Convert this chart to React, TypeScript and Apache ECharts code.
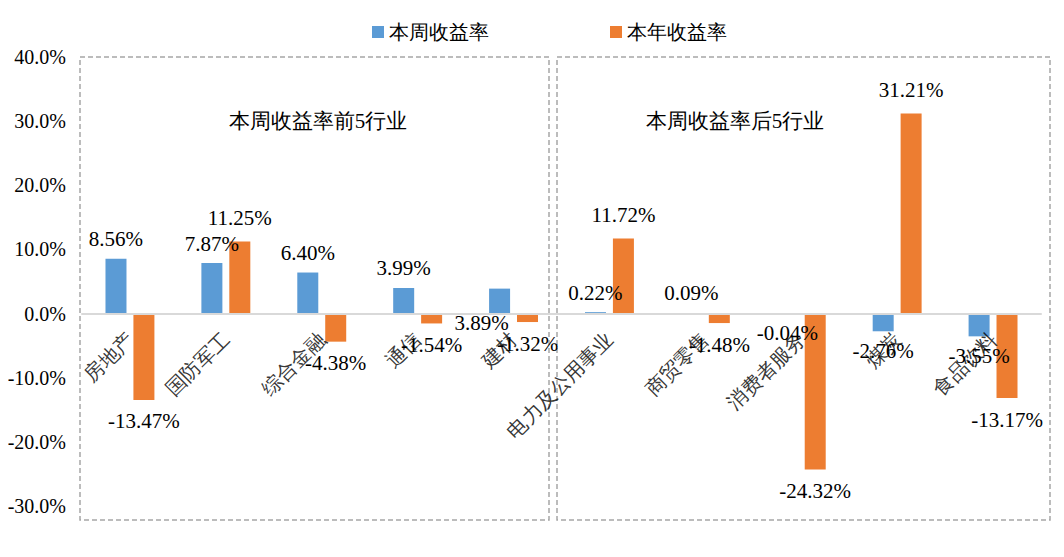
import React, { useEffect, useRef } from "react";
import * as echarts from "echarts";

const categories = ["房地产", "国防军工", "综合金融", "通信", "建材", "电力及公用事业", "商贸零售", "消费者服务", "煤炭", "食品饮料"];
const weekReturn = [8.56, 7.87, 6.40, 3.99, 3.89, 0.22, 0.09, -0.04, -2.76, -3.55];
const yearReturn = [-13.47, 11.25, -4.38, -1.54, -1.32, 11.72, -1.48, -24.32, 31.21, -13.17];
const seriesNames = ["本周收益率", "本年收益率"];
const panelTitles = ["本周收益率前5行业", "本周收益率后5行业"];

const FONT = "Liberation Serif";

function buildData(values: number[], topDist: number, botDist: number) {
  return values.map((v) => {
    const item: any = {
      value: v,
      label: {
        position: v >= 0 ? "top" : "bottom",
        distance: v >= 0 ? topDist : botDist,
      },
    };
    return item;
  });
}

export default function App() {
  const ref = useRef<HTMLDivElement>(null);
  useEffect(() => {
    if (!ref.current) return;
    const chart = echarts.init(ref.current, null, { renderer: "svg" });
    const weekData = buildData(weekReturn, 9, 9);
    // 建材 label sits below the axis in the reference
    weekData[4].label = { position: "bottom", distance: -1, offset: [-18, 0] };
    const yearData = buildData(yearReturn, 13, 11);
    const catLabelData = categories.map((c, i) => [i, 0]);

    chart.setOption({
      animation: false,
      textStyle: { fontFamily: FONT },
      legend: {
        top: 17,
        left: 367,
        itemWidth: 12,
        itemHeight: 12,
        itemGap: 121,
        icon: "rect",
        textStyle: { fontSize: 20, color: "#000", fontFamily: FONT },
        data: seriesNames,
      },
      grid: { left: 82, right: 23, top: 57, bottom: 51, containLabel: false, outerBoundsMode: "none" },
      xAxis: {
        type: "category",
        data: categories,
        axisLine: { onZero: true, lineStyle: { color: "#d9d9d9", width: 2 } },
        axisTick: { show: false },
        axisLabel: { show: false },
        z: 5,
      },
      yAxis: {
        type: "value",
        min: -30,
        max: 40,
        interval: 10,
        splitLine: { show: false },
        axisLine: { show: false },
        axisTick: { show: false },
        axisLabel: {
          formatter: (v: number) => v.toFixed(1) + "%",
          fontSize: 20,
          color: "#000",
          margin: 16,
          fontFamily: FONT,
        },
      },
      series: [
        {
          name: seriesNames[0],
          type: "bar",
          data: weekData,
          barWidth: 21,
          barGap: "33%",
          itemStyle: { color: "#5b9bd5" },
          label: {
            show: true,
            formatter: (p: any) => p.value.toFixed(2) + "%",
            fontSize: 21,
            color: "#000",
            fontFamily: FONT,
          },
        },
        {
          name: seriesNames[1],
          type: "bar",
          data: yearData,
          barWidth: 21,
          barGap: "33%",
          itemStyle: { color: "#ed7d31" },
          label: {
            show: true,
            formatter: (p: any) => p.value.toFixed(2) + "%",
            fontSize: 21,
            color: "#000",
            fontFamily: FONT,
          },
        },
        {
          name: "category-labels",
          type: "scatter",
          data: catLabelData,
          symbolSize: 0,
          silent: true,
          z: 10,
          label: {
            show: true,
            position: [0, 0],
            rotate: 45,
            align: "right",
            verticalAlign: "middle",
            formatter: (p: any) => categories[p.dataIndex],
            fontSize: 20,
            color: "#000",
            fontFamily: FONT,
          },
          labelLayout: (params: any) => ({
            x: params.rect.x,
            y: params.rect.y + 22,
          }),
        },
      ],
      graphic: [
        {
          type: "rect",
          shape: { x: 80, y: 57, width: 469, height: 463 },
          style: { fill: "none", stroke: "#a6a6a6", lineWidth: 1.5, lineDash: [5, 3] },
          z: 0,
        },
        {
          type: "rect",
          shape: { x: 557, y: 57, width: 493, height: 463 },
          style: { fill: "none", stroke: "#a6a6a6", lineWidth: 1.5, lineDash: [5, 3] },
          z: 0,
        },
        {
          type: "text",
          x: 318,
          y: 121,
          style: {
            text: panelTitles[0],
            fontSize: 21,
            fill: "#000",
            fontFamily: FONT,
            textAlign: "center",
            textVerticalAlign: "middle",
          },
        },
        {
          type: "text",
          x: 735,
          y: 121,
          style: {
            text: panelTitles[1],
            fontSize: 21,
            fill: "#000",
            fontFamily: FONT,
            textAlign: "center",
            textVerticalAlign: "middle",
          },
        },
      ],
    });
    return () => chart.dispose();
  }, []);
  return <div ref={ref} style={{ width: 1064, height: 557, margin: -8 }} />;
}
